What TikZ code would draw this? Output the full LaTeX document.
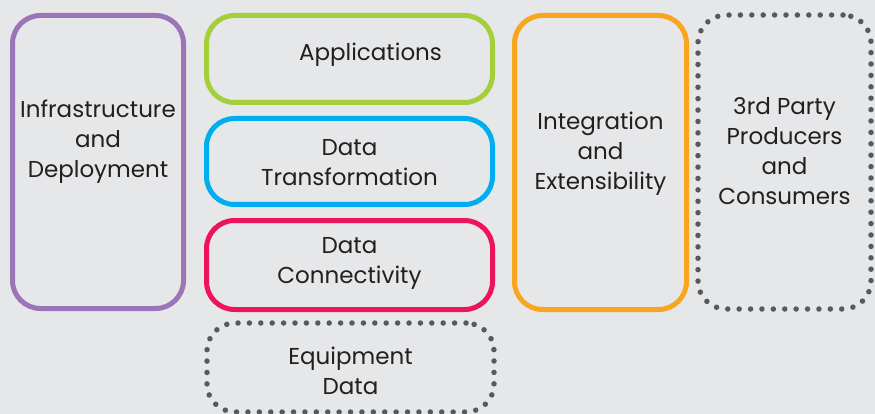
\documentclass[tikz,border=0pt]{standalone}
\usepackage{fontspec}
\setmainfont{Poppins}
\usepackage{tikz}

\definecolor{bgcol}{HTML}{E6E7E8}
\definecolor{infracol}{HTML}{9B75B5}
\definecolor{appcol}{HTML}{A5CF3A}
\definecolor{transcol}{HTML}{00AEEF}
\definecolor{conncol}{HTML}{ED145B}
\definecolor{integcol}{HTML}{F9A51E}
\definecolor{dotcol}{HTML}{58595B}
\definecolor{txtcol}{HTML}{231F20}

\tikzset{
    box/.style={draw, rounded corners=28pt, line width=5pt, inner sep=0pt},
    dotbox/.style={draw=dotcol, rounded corners=28pt, line width=5.5pt, line cap=round, dash pattern=on 0pt off 11.4pt, inner sep=0pt},
    txt/.style={text=txtcol, align=center, font=\fontsize{23}{30}\selectfont}
}

\begin{document}
\begin{tikzpicture}[x=1pt, y=-1pt]
            \fill[bgcol] (0,0) rectangle (875,414);
            \useasboundingbox (0,0) rectangle (875,414);

            % left column
            \node[box, draw=infracol, minimum width=171pt, minimum height=293pt,
                label={[txt, yshift=20pt]center:Infrastructure\\and\\Deployment}] (infra) at (98,162) {};

            % middle stack
            \node[box, draw=appcol, minimum width=286pt, minimum height=87pt,
                label={[txt, xshift=21pt, yshift=4pt]center:Applications}] (apps) at (349.5,59) {};
            \node[box, draw=transcol, minimum width=286pt, minimum height=86pt,
                label={[txt, yshift=-1pt]center:Data\\Transformation}] (trans) at (349.5,161.5) {};
            \node[box, draw=conncol, minimum width=286pt, minimum height=89pt,
                label={[txt, yshift=1.5pt]center:Data\\Connectivity}] (conn) at (349.5,265) {};
            \node[dotbox, minimum width=287pt, minimum height=89pt,
                label={[txt, yshift=-3pt]center:Equipment\\Data}] (equip) at (350.5,367.5) {};

            % right columns
            \node[box, draw=integcol, minimum width=172pt, minimum height=294pt,
                label={[txt, yshift=8.5pt]center:Integration\\and\\Extensibility}] (integ) at (600.5,162.5) {};
            \node[dotbox, minimum width=173pt, minimum height=294pt,
                label={[txt, yshift=10.5pt]center:3rd Party\\Producers\\and\\Consumers}] (party) at (784.5,162) {};
        \end{tikzpicture}
\end{document}
